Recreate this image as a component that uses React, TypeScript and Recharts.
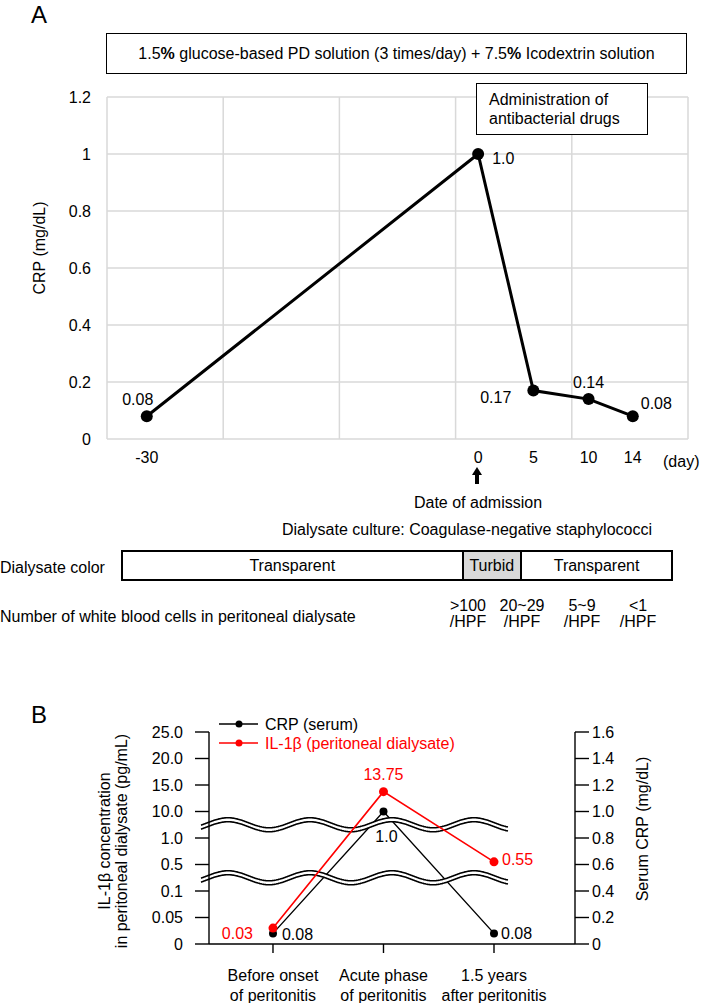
import { LineChart, Line, XAxis, YAxis, CartesianGrid, LabelList, ReferenceLine, Label } from 'recharts';

// Panel A: CRP course around admission
const days = [-30, 0, 5, 10, 14];
const crpA = [0.08, 1.0, 0.17, 0.14, 0.08];
const crpALabels = ['0.08', '1.0', '0.17', '0.14', '0.08'];
const dayTicks = [-30, 0, 5, 10, 14];
const crpATicks = [0, 0.2, 0.4, 0.6, 0.8, 1, 1.2];

const colorSegments = ['Transparent', 'Turbid', 'Transparent'];
const wbcCounts = ['>100', '20~29', '5~9', '<1'];

// Panel B: CRP (serum) vs IL-1β (dialysate)
const phases = [
  ['Before onset', 'of peritonitis'],
  ['Acute phase', 'of peritonitis'],
  ['1.5 years', 'after peritonitis'],
];
const crpB = [0.08, 1.0, 0.08];
const crpBLabels = ['0.08', '1.0', '0.08'];
const il1b = [0.03, 13.75, 0.55];
const il1bLabels = ['0.03', '13.75', '0.55'];
const ilBreaks = [0, 0.05, 0.1, 0.5, 1.0, 10, 15, 20, 25];
const ilTickLabels = ['0', '0.05', '0.1', '0.5', '1.0', '10.0', '15.0', '20.0', '25.0'];
const crpBTicks = [0, 0.2, 0.4, 0.6, 0.8, 1.0, 1.2, 1.4, 1.6];

const FONT = '"Liberation Sans", Arial, sans-serif';
const RED = '#ff0000';

// broken left axis: each printed tick is one step, linear inside a step
const ilToStep = (v: number) => {
  for (let i = 0; i < ilBreaks.length - 1; i++) {
    if (v <= ilBreaks[i + 1]) return i + (v - ilBreaks[i]) / (ilBreaks[i + 1] - ilBreaks[i]);
  }
  return ilBreaks.length - 1;
};

const dataA = days.map((d, i) => ({ day: d, crp: crpA[i], label: crpALabels[i] }));
const dataB = phases.map((_, i) => ({
  x: i,
  crp: crpB[i],
  il: ilToStep(il1b[i]),
  crpLabel: crpBLabels[i],
  ilLabel: il1bLabels[i],
}));

type Pos = { dx: number; dy: number; anchor: 'start' | 'middle' | 'end' };
const posA: Pos[] = [
  { dx: -9, dy: -17, anchor: 'middle' },
  { dx: 14, dy: 4, anchor: 'start' },
  { dx: -22, dy: 7, anchor: 'end' },
  { dx: 0, dy: -17, anchor: 'middle' },
  { dx: 8, dy: -13, anchor: 'start' },
];
const posCrpB: Pos[] = [
  { dx: 9, dy: 1, anchor: 'start' },
  { dx: 3, dy: 25, anchor: 'middle' },
  { dx: 7, dy: 0, anchor: 'start' },
];
const posIlB: Pos[] = [
  { dx: -20, dy: 5, anchor: 'end' },
  { dx: 0, dy: -17, anchor: 'middle' },
  { dx: 8, dy: -2, anchor: 'start' },
];

const pointLabel = (pos: Pos[], color: string) => (p: any) => {
  const o = pos[p.index];
  return (
    <text
      x={p.x + o.dx}
      y={p.y + o.dy}
      textAnchor={o.anchor}
      dominantBaseline="central"
      fill={color}
      fontSize={16}
      fontFamily={FONT}
    >
      {p.value}
    </text>
  );
};

// double wavy break mark with white fill
const WaveBreak = (p: any) => {
  const x0 = p.x1 - 1.5;
  const cy = p.y1;
  const xs = p.x1 - 8;
  const xe = p.x1 + 299;
  const amp = 5;
  const period = 82;
  const gap = 4;
  const up: string[] = [];
  const lo: string[] = [];
  for (let x = xs; x <= xe; x += 1) {
    const w = -amp * Math.sin((2 * Math.PI * (x - x0)) / period);
    up.push(`${x},${(cy - gap / 2 + w).toFixed(2)}`);
    lo.push(`${x},${(cy + gap / 2 + w).toFixed(2)}`);
  }
  const fillPts = [...up, ...[...lo].reverse()].join(' ');
  return (
    <g>
      <polygon points={fillPts} fill="#fff" stroke="none" />
      <polyline points={up.join(' ')} fill="none" stroke="#000" strokeWidth={1.6} />
      <polyline points={lo.join(' ')} fill="none" stroke="#000" strokeWidth={1.6} />
    </g>
  );
};

const PhaseTick = (p: any) => {
  const lines = phases[p.payload.value];
  return (
    <g>
      {lines.map((t, i) => (
        <text
          key={i}
          x={p.x}
          y={p.y + 20 + i * 20}
          textAnchor="middle"
          dominantBaseline="central"
          fill="#000"
          fontSize={16}
          fontFamily={FONT}
        >
          {t}
        </text>
      ))}
    </g>
  );
};

const RotText = ({ x, y, children }: { x: number; y: number; children: string }) => (
  <text
    x={x}
    y={y}
    transform={`rotate(-90 ${x} ${y})`}
    textAnchor="middle"
    dominantBaseline="central"
    fill="#000"
    fontSize={16}
    fontFamily={FONT}
  >
    {children}
  </text>
);

const text16 = { fontSize: 16, fontFamily: FONT, color: '#000' } as const;

const B_TOP = 700;

export default function App() {
  return (
    <div style={{ position: 'relative', width: 708, height: 1003, background: '#fff', fontFamily: FONT }}>
      <style>{'body{margin:0}'}</style>

      {/* ---------- A ---------- */}
      <div style={{ position: 'absolute', left: 31, top: 0, fontSize: 24, lineHeight: '30px' }}>A</div>

      <div style={{ position: 'absolute', left: 0, top: 0 }}>
        <LineChart width={708} height={480} data={dataA} margin={{ top: 97, right: 20, left: 0, bottom: 0 }}>
          <CartesianGrid
            stroke="#d9d9d9"
            strokeWidth={1.5}
            verticalCoordinatesGenerator={({ offset }: any) =>
              [0, 1, 2, 3, 4, 5].map((i) => offset.left + (offset.width * i) / 5)
            }
          />
          <XAxis
            dataKey="day"
            type="number"
            domain={[-33.6, 19.0]}
            ticks={dayTicks}
            interval={0}
            axisLine={false}
            tickLine={false}
            tickSize={0}
            tickMargin={13}
            height={41}
            tick={{ fill: '#000', fontSize: 16, fontFamily: FONT }}
          />
          <YAxis
            type="number"
            domain={[0, 1.2]}
            ticks={crpATicks}
            interval={0}
            width={107}
            axisLine={false}
            tickLine={false}
            tickSize={0}
            tickMargin={16}
            tick={{ fill: '#000', fontSize: 16, fontFamily: FONT }}
          >
            <Label content={() => <RotText x={39} y={248}>CRP (mg/dL)</RotText>} />
          </YAxis>
          <Line
            dataKey="crp"
            stroke="#000"
            strokeWidth={3}
            dot={{ r: 6, fill: '#000', stroke: 'none' }}
            isAnimationActive={false}
          >
            <LabelList dataKey="label" content={pointLabel(posA, '#000')} />
          </Line>
        </LineChart>
      </div>

      {/* treatment box */}
      <div
        style={{
          position: 'absolute', left: 106, top: 33, width: 579, height: 39,
          border: '1.5px solid #000', background: '#fff', display: 'flex',
          alignItems: 'center', justifyContent: 'center', ...text16,
        }}
      >
        <span>
          1.5<b>%</b> glucose-based PD solution (3 times/day) + 7.5<b>%</b> Icodextrin solution
        </span>
      </div>

      {/* antibiotics box */}
      <div
        style={{
          position: 'absolute', left: 476, top: 83, width: 158, height: 50,
          border: '1.5px solid #000', background: '#fff', paddingLeft: 12,
          display: 'flex', flexDirection: 'column', justifyContent: 'center',
          lineHeight: '19px', ...text16,
        }}
      >
        <div>Administration of</div>
        <div>antibacterial drugs</div>
      </div>

      <div style={{ position: 'absolute', left: 663, top: 453, ...text16 }}>(day)</div>

      <svg style={{ position: 'absolute', left: 467, top: 464 }} width={20} height={22}>
        <polygon points="10,3 15,11 5,11" fill="#000" />
        <rect x={8} y={10} width={4} height={10} fill="#000" />
      </svg>

      <div style={{ position: 'absolute', left: 378, width: 200, top: 494, textAlign: 'center', ...text16 }}>
        Date of admission
      </div>
      <div style={{ position: 'absolute', left: 282, top: 521, ...text16 }}>
        Dialysate culture: Coagulase-negative staphylococci
      </div>

      <div style={{ position: 'absolute', left: 0, top: 559, ...text16 }}>Dialysate color</div>
      <div
        style={{
          position: 'absolute', left: 121, top: 550, width: 548, height: 27,
          border: '2px solid #000', display: 'flex', ...text16,
        }}
      >
        {colorSegments.map((s, i) => (
          <div
            key={i}
            style={{
              width: [341, 57, 150][i],
              borderLeft: i > 0 ? '2px solid #000' : 'none',
              background: s === 'Turbid' ? '#d9d9d9' : '#fff',
              display: 'flex', alignItems: 'center', justifyContent: 'center',
            }}
          >
            {s}
          </div>
        ))}
      </div>

      <div style={{ position: 'absolute', left: 0, top: 608, ...text16 }}>
        Number of white blood cells in peritoneal dialysate
      </div>
      {wbcCounts.map((w, i) => (
        <div
          key={i}
          style={{
            position: 'absolute', left: [468, 522, 582, 638][i] - 30, width: 60, top: 598,
            textAlign: 'center', lineHeight: '16px', ...text16,
          }}
        >
          <div>{w}</div>
          <div>/HPF</div>
        </div>
      ))}

      {/* ---------- B ---------- */}
      <div style={{ position: 'absolute', left: 31, top: 700, fontSize: 24, lineHeight: '30px' }}>B</div>

      <div style={{ position: 'absolute', left: 0, top: B_TOP }}>
        <LineChart width={708} height={303} data={dataB} margin={{ top: 32, right: 0, left: 0, bottom: 0 }}>
          <XAxis
            dataKey="x"
            type="number"
            domain={[-0.579, 2.733]}
            ticks={[0, 1, 2]}
            interval={0}
            height={59}
            stroke="#000"
            strokeWidth={1.4}
            tickSize={9}
            tickMargin={2}
            tick={<PhaseTick />}
          />
          <YAxis
            yAxisId="il"
            type="number"
            domain={[0, 8]}
            ticks={[0, 1, 2, 3, 4, 5, 6, 7, 8]}
            interval={0}
            width={209}
            stroke="#000"
            strokeWidth={1.4}
            tickSize={14}
            tickMargin={12}
            tickFormatter={(v: number) => ilTickLabels[v]}
            tick={{ fill: '#000', fontSize: 16, fontFamily: FONT }}
          >
            <Label
              content={() => (
                <g>
                  <RotText x={104} y={841 - B_TOP}>IL-1β concentration</RotText>
                  <RotText x={121} y={841 - B_TOP}>in peritoneal dialysate (pg/mL)</RotText>
                </g>
              )}
            />
          </YAxis>
          <YAxis
            yAxisId="crp"
            orientation="right"
            type="number"
            domain={[0, 1.6]}
            ticks={crpBTicks}
            interval={0}
            width={133}
            stroke="#000"
            strokeWidth={1.4}
            tickSize={14}
            tickMargin={3}
            tickFormatter={(v: number) => (v === 0 ? '0' : v.toFixed(1))}
            tick={{ fill: '#000', fontSize: 16, fontFamily: FONT }}
          >
            <Label content={() => <RotText x={642} y={829 - B_TOP}>Serum CRP (mg/dL)</RotText>} />
          </YAxis>
          <Line
            yAxisId="crp"
            dataKey="crp"
            stroke="#000"
            strokeWidth={1.4}
            dot={{ r: 4, fill: '#000', stroke: 'none' }}
            isAnimationActive={false}
          >
            <LabelList dataKey="crpLabel" content={pointLabel(posCrpB, '#000')} />
          </Line>
          <ReferenceLine yAxisId="il" y={4.5} shape={WaveBreak} />
          <ReferenceLine yAxisId="il" y={2.5} shape={WaveBreak} />
          <Line
            yAxisId="il"
            dataKey="il"
            stroke={RED}
            strokeWidth={1.6}
            dot={{ r: 4.5, fill: RED, stroke: 'none' }}
            isAnimationActive={false}
          >
            <LabelList dataKey="ilLabel" content={pointLabel(posIlB, RED)} />
          </Line>
        </LineChart>
      </div>

      {/* legend */}
      <svg style={{ position: 'absolute', left: 215, top: 714 }} width={260} height={40}>
        <line x1={4} y1={10} x2={43} y2={10} stroke="#000" strokeWidth={1.4} />
        <circle cx={24} cy={10} r={3.5} fill="#000" />
        <text x={50} y={10} dominantBaseline="central" fontSize={16} fontFamily={FONT} fill="#000">
          CRP (serum)
        </text>
        <line x1={4} y1={29} x2={43} y2={29} stroke={RED} strokeWidth={1.6} />
        <circle cx={24} cy={29} r={3.5} fill={RED} />
        <text x={50} y={29} dominantBaseline="central" fontSize={16} fontFamily={FONT} fill={RED}>
          IL-1β (peritoneal dialysate)
        </text>
      </svg>
    </div>
  );
}
